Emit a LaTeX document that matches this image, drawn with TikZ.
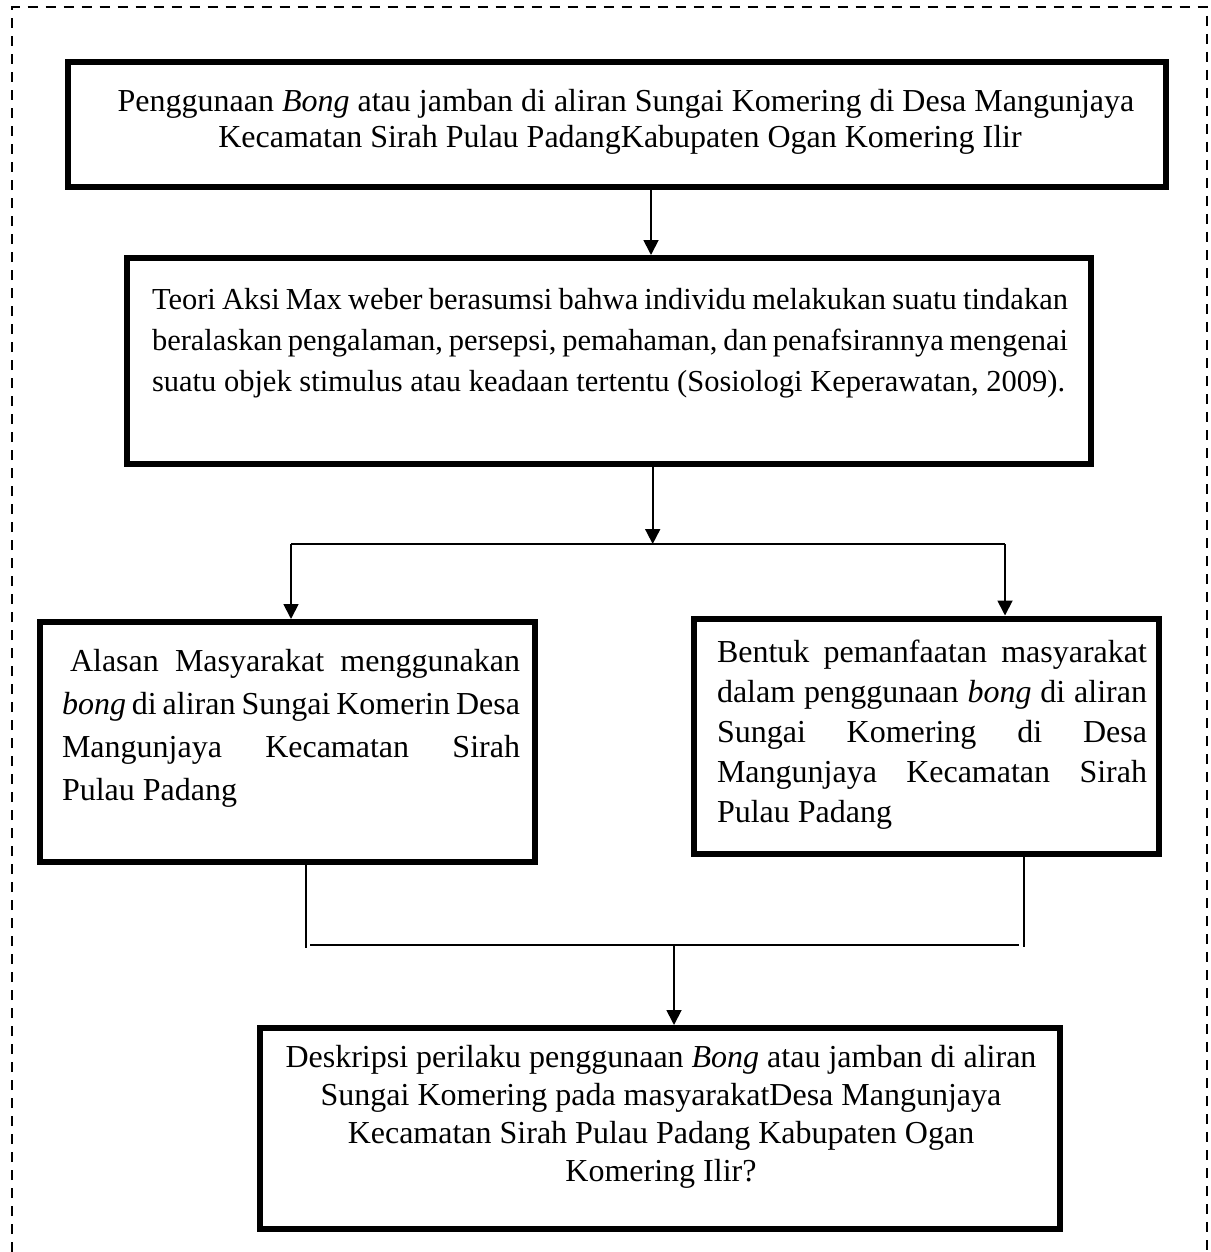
\documentclass[tikz,border=0pt]{standalone}
\usepackage{fontspec}
\setmainfont{Liberation Serif}
\usetikzlibrary{arrows.meta}
\begin{document}
\begin{tikzpicture}[x=1pt,y=-1pt,
  box/.style={draw, line width=6pt, rectangle, inner sep=0pt, outer sep=0pt},
  txt/.style={inner sep=0pt, outer sep=0pt, anchor=north west},
  ctxt/.style={inner sep=0pt, outer sep=0pt, anchor=north, align=center},
  conn/.style={line width=1.8pt},
  arr/.style={conn, -{Triangle[length=15pt,width=15pt]}, shorten >=3pt}]
\useasboundingbox (0,0) rectangle (1210,1252);
% outer dashed frame
\draw[line width=2pt, dash pattern=on 10pt off 8pt] (12,1252) -- (12,7.5) -- (1207,7.5) -- (1207,1252);

% boxes
\node[box, minimum width=1097.5pt, minimum height=124.5pt] (b1) at (616.75,124.75) {};
\node[box, minimum width=964pt, minimum height=206pt] (b2) at (609,361) {};
\node[box, minimum width=495.5pt, minimum height=240pt] (b3) at (287.25,742) {};
\node[box, minimum width=465pt, minimum height=235.5pt] (b4) at (926.5,736.25) {};
\node[box, minimum width=800pt, minimum height=200.5pt] (b5) at (660,1128.25) {};

% texts
\node[ctxt, font=\fontsize{32}{36}\selectfont] (t1) at (620,89)
  {\hspace*{12pt}Penggunaan \textit{Bong} atau jamban di aliran Sungai Komering di Desa Mangunjaya\\
   Kecamatan Sirah Pulau PadangKabupaten Ogan Komering Ilir};
\node[txt, text width=916pt, align=justify, font=\fontsize{30.5}{41}\selectfont] (t2) at (152,288)
  {Teori Aksi Max weber berasumsi bahwa individu melakukan suatu tindakan\linebreak
   beralaskan pengalaman, persepsi, pemahaman, dan penafsirannya mengenai\linebreak
   suatu objek stimulus atau keadaan tertentu (Sosiologi Keperawatan, 2009).};
\node[txt, text width=458pt, align=justify, font=\fontsize{32}{43}\selectfont] (t3) at (62,649.5)
  {\hspace*{8pt}Alasan Masyarakat menggunakan\linebreak
   \textit{bong} di aliran Sungai Komerin Desa\linebreak
   Mangunjaya Kecamatan Sirah\linebreak
   Pulau Padang};
\node[txt, text width=430pt, align=justify, font=\fontsize{32}{40}\selectfont] (t4) at (717,640)
  {Bentuk pemanfaatan masyarakat\linebreak
   dalam penggunaan \textit{bong} di aliran\linebreak
   Sungai Komering di Desa\linebreak
   Mangunjaya Kecamatan Sirah\linebreak
   Pulau Padang};
\node[ctxt, font=\fontsize{32}{38}\selectfont] (t5) at (661,1045)
  {Deskripsi perilaku penggunaan \textit{Bong} atau jamban di aliran\\
   Sungai Komering pada masyarakatDesa Mangunjaya\\
   Kecamatan Sirah Pulau Padang Kabupaten Ogan\\
   Komering Ilir?};

% connector coordinates
\coordinate (x1) at (651,0);
\coordinate (j1) at (652.7,544);
\coordinate (jl) at (291,544);
\coordinate (jr) at (1005,544);
\coordinate (ll) at (305.7,948);
\coordinate (rr) at (1024,947);
\coordinate (hl) at (310,945);
\coordinate (hr) at (1019,945);
\coordinate (j2) at (674,945);

% connectors
\draw[arr] (b1.south -| x1) -- (b2.north -| x1);
\draw[arr, shorten >=0pt] (b2.south -| j1) -- (j1);
\draw[conn] (jl) -- (jr);
\draw[arr] (jl) -- (b3.north -| jl);
\draw[arr] (jr) -- (b4.north -| jr);
\draw[conn] (b3.south -| ll) -- (ll);
\draw[conn] (b4.south -| rr) -- (rr);
\draw[conn] (hl) -- (hr);
\draw[arr] (j2) -- (b5.north -| j2);
\end{tikzpicture}
\end{document}
